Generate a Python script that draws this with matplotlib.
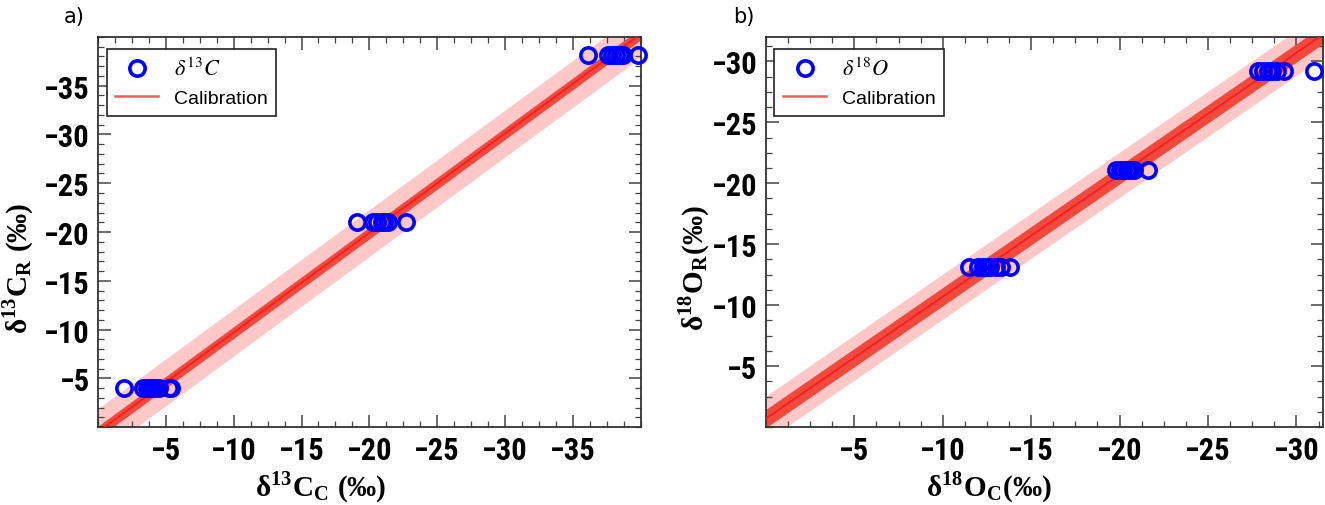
import matplotlib
matplotlib.use('Agg')
import matplotlib.pyplot as plt
from matplotlib import font_manager
from matplotlib.ticker import AutoMinorLocator
import numpy as np

plt.rcParams['mathtext.fontset'] = 'stix'

# panel a) delta 13C : measured (C) vs reference (R)
c13_meas = [-1.9, -3.3, -3.6, -3.8, -4.0, -4.2, -4.5, -5.2, -5.4,
            -19.1, -20.3, -20.6, -20.9, -21.1, -21.4, -22.7,
            -36.1, -37.6, -37.9, -38.2, -38.5, -38.7, -39.8]
c13_ref = [-4.0] * 9 + [-21.0] * 7 + [-38.1] * 7
c13_fit = (1.02, 0.5)        # slope, intercept
c13_band = (0.6, 2.4)        # inner / outer half widths

# panel b) delta 18O
o18_meas = [-11.5, -12.0, -12.3, -12.5, -12.7, -13.0, -13.3, -13.8,
            -19.8, -20.0, -20.2, -20.4, -20.6, -20.8, -21.6,
            -27.8, -28.1, -28.4, -28.6, -28.9, -29.3, -31.0]
o18_ref = [-13.1] * 8 + [-21.1] * 7 + [-29.2] * 7
o18_fit = (1.0, -0.7)
o18_band = (0.75, 1.85)

# pick a narrow bold sans for tick labels if one is around
have = {f.name for f in font_manager.fontManager.ttflist}
narrow = [f for f in ['Liberation Sans Narrow', 'DejaVu Sans Condensed', 'Roboto Condensed',
                      'Liberation Sans'] if f in have]
tick_fam = narrow[0] if narrow else 'DejaVu Sans'
tick_size = 22 if tick_fam in ('Liberation Sans Narrow', 'Roboto Condensed') else 19.5

fig = plt.figure(figsize=(13.25, 5.06), dpi=100)
ax1 = fig.add_axes([0.074, 0.154, 0.4095, 0.771])
ax2 = fig.add_axes([0.578, 0.154, 0.4205, 0.771])

tick_font = {'family': [tick_fam, 'DejaVu Sans'], 'weight': 'bold', 'size': tick_size}
lab_font = {'family': ['Liberation Serif', 'DejaVu Serif'], 'weight': 'bold', 'size': 21}


def draw_panel(ax, xm, yr, fit, band, xmax, ymax, xticks, yticks, ylabel, xlabel, leg,
               yminor, ylab_x, xlab_x):
    xs = np.linspace(2, xmax - 2, 50)
    line = fit[0] * xs + fit[1]
    ax.fill_between(xs, line - band[1], line + band[1], color='#ffc8c8', lw=0, zorder=1)
    ax.fill_between(xs, line - band[0], line + band[0], color='#f04a3e', lw=0, zorder=2)
    ax.plot(xs, line, color='#ff1a1a', lw=1.3, zorder=3, label='Calibration')
    ax.plot(xm, yr, 'o', ms=11, mfc='none', mec='#0000ff', mew=2.6, zorder=4,
            clip_on=False, label=leg)
    ax.set_xlim(0, xmax)
    ax.set_ylim(0, ymax)
    ax.set_xticks(xticks)
    ax.set_yticks(yticks)
    ax.set_xticklabels(['\u2212%d' % -t for t in xticks], fontdict=tick_font)
    ax.set_yticklabels(['\u2212%d' % -t for t in yticks], fontdict=tick_font)
    ax.xaxis.set_minor_locator(AutoMinorLocator(4))
    ax.yaxis.set_minor_locator(AutoMinorLocator(yminor))
    ax.tick_params(which='both', direction='in', top=True, right=True, color='#444444')
    ax.tick_params(which='major', length=9, width=1.1, pad=6)
    ax.tick_params(which='minor', length=4.5, width=0.9)
    for s in ax.spines.values():
        s.set_color('#333333')
        s.set_linewidth(1.3)
    ax.set_xlabel(xlabel, fontdict=lab_font)
    ax.set_ylabel(ylabel, fontdict=lab_font)
    ax.xaxis.set_label_coords(xlab_x, -0.108)
    ax.yaxis.set_label_coords(ylab_x, 0.41)
    h, l = ax.get_legend_handles_labels()
    lg = ax.legend(h[::-1], l[::-1], loc='upper left', bbox_to_anchor=(0.005, 0.985),
                   prop={'family': ['Liberation Sans', 'DejaVu Sans'], 'size': 14},
                   fancybox=False, framealpha=1, edgecolor='#222222',
                   borderpad=0.45, handlelength=2.2, labelspacing=0.5, borderaxespad=0.3)
    lg.get_frame().set_linewidth(1.2)
    lg.get_texts()[0].set_fontsize(16)
    lg.get_lines()[1].set_color('#ff5a5a')
    lg.get_lines()[1].set_linewidth(1.8)


draw_panel(ax1, c13_meas, c13_ref, c13_fit, c13_band, -40, -40,
           [-5, -10, -15, -20, -25, -30, -35], [-5, -10, -15, -20, -25, -30, -35],
           r'δ$^{\mathregular{13}}$C$_{\mathregular{R}}$ (‰)',
           r'δ$^{\mathregular{13}}$C$_{\mathregular{C}}$ (‰)', r'$\delta^{13}C$', 5,
           -0.114, 0.41)
draw_panel(ax2, o18_meas, o18_ref, o18_fit, o18_band, -31.5, -32,
           [-5, -10, -15, -20, -25, -30], [-5, -10, -15, -20, -25, -30],
           r'δ$^{\mathregular{18}}$O$_{\mathregular{R}}$(‰)',
           r'δ$^{\mathregular{18}}$O$_{\mathregular{C}}$(‰)', r'$\delta^{18}O$', 4,
           -0.097, 0.40)

fig.text(0.048, 0.955, 'a)', fontsize=15, family='DejaVu Sans')
fig.text(0.553, 0.955, 'b)', fontsize=15, family='DejaVu Sans')

fig.savefig('out.png', dpi=100)
